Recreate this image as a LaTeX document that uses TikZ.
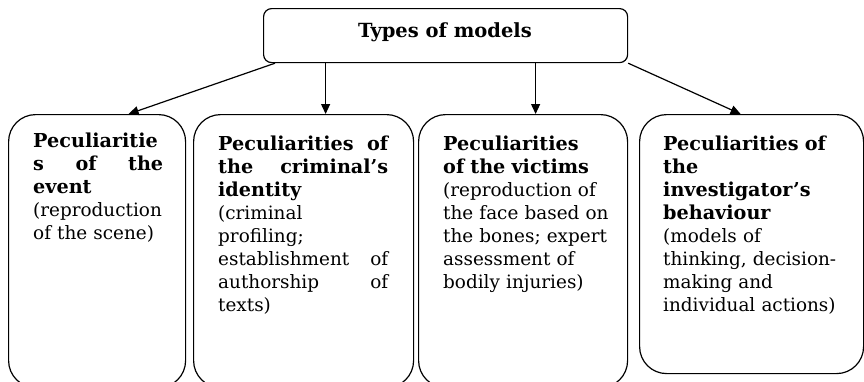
\documentclass[tikz,border=0pt]{standalone}
\usepackage{fontspec}
\setmainfont{DejaVu Serif}
\usetikzlibrary{arrows.meta}
\newcommand\boxhead{\fontsize{19.2}{23.1}\selectfont\bfseries}
\newcommand\boxbody{\fontsize{18.4}{23.1}\selectfont\mdseries}
\begin{document}
\begin{tikzpicture}[x=1pt,y=-1pt,
  headbox/.style={draw, line width=1.2pt, rounded corners=8pt, inner sep=0pt,
    anchor=north west, minimum width=364pt, minimum height=54pt},
  frame/.style={draw, line width=1.2pt, rounded corners=27pt, inner sep=0pt,
    anchor=north west},
  body/.style={anchor=base west, inner sep=0pt, align=left,
    font=\boxbody},
  link/.style={line width=1.2pt, -{Triangle[length=10pt,width=9pt]}}
]
\useasboundingbox (0,0) rectangle (864,381);
\clip (0,0) rectangle (864,381);

% heading box
\node[headbox] (head) at (263,8) {};
\node[anchor=base, inner sep=0pt, font=\fontsize{19.5}{22}\selectfont\bfseries]
  (ttl) at (445,37) {Types of models};

% the four category boxes
\node[frame, minimum width=177pt, minimum height=273pt] (b1) at (8,114) {};
\node[frame, minimum width=220pt, minimum height=273pt] (b2) at (193,114) {};
\node[frame, minimum width=209pt, minimum height=273pt] (b3) at (418,114) {};
\node[frame, minimum width=224pt, minimum height=259pt] (b4) at (639,114) {};

% texts of the boxes
\node[body, text width=130pt] (t1) at (33,147)
  {\boxhead Peculiaritie\\s\hfill of\hfill the\\event\\\boxbody
   (reproduction\\of the scene)};
\node[body, text width=170pt] (t2) at (218,150)
  {\boxhead Peculiarities\hfill of\\the\hfill criminal’s\\identity\\\boxbody
   (criminal\\profiling;\\establishment\hfill of\\authorship\hfill of\\texts)};
\node[body, text width=172pt] (t3) at (443,150)
  {\boxhead Peculiarities\\of the victims\\\boxbody
   (reproduction of\\the face based on\\the bones; expert\\assessment of\\bodily injuries)};
\node[body, text width=185pt] (t4) at (663,150)
  {\boxhead Peculiarities of\\the\\investigator’s\\behaviour\\\boxbody
   (models of\\thinking, decision-\\making and\\individual actions)};

% connectors
\draw[link] ([xshift=12pt]head.south west) -- ([xshift=31.5pt]b1.north);
\draw[link] ([xshift=-120pt]head.south) -- ([xshift=22pt]b2.north);
\draw[link] ([xshift=90pt]head.south) -- ([xshift=12.5pt]b3.north);
\draw[link] (head.south east) -- ([xshift=-11pt]b4.north);
\end{tikzpicture}
\end{document}
